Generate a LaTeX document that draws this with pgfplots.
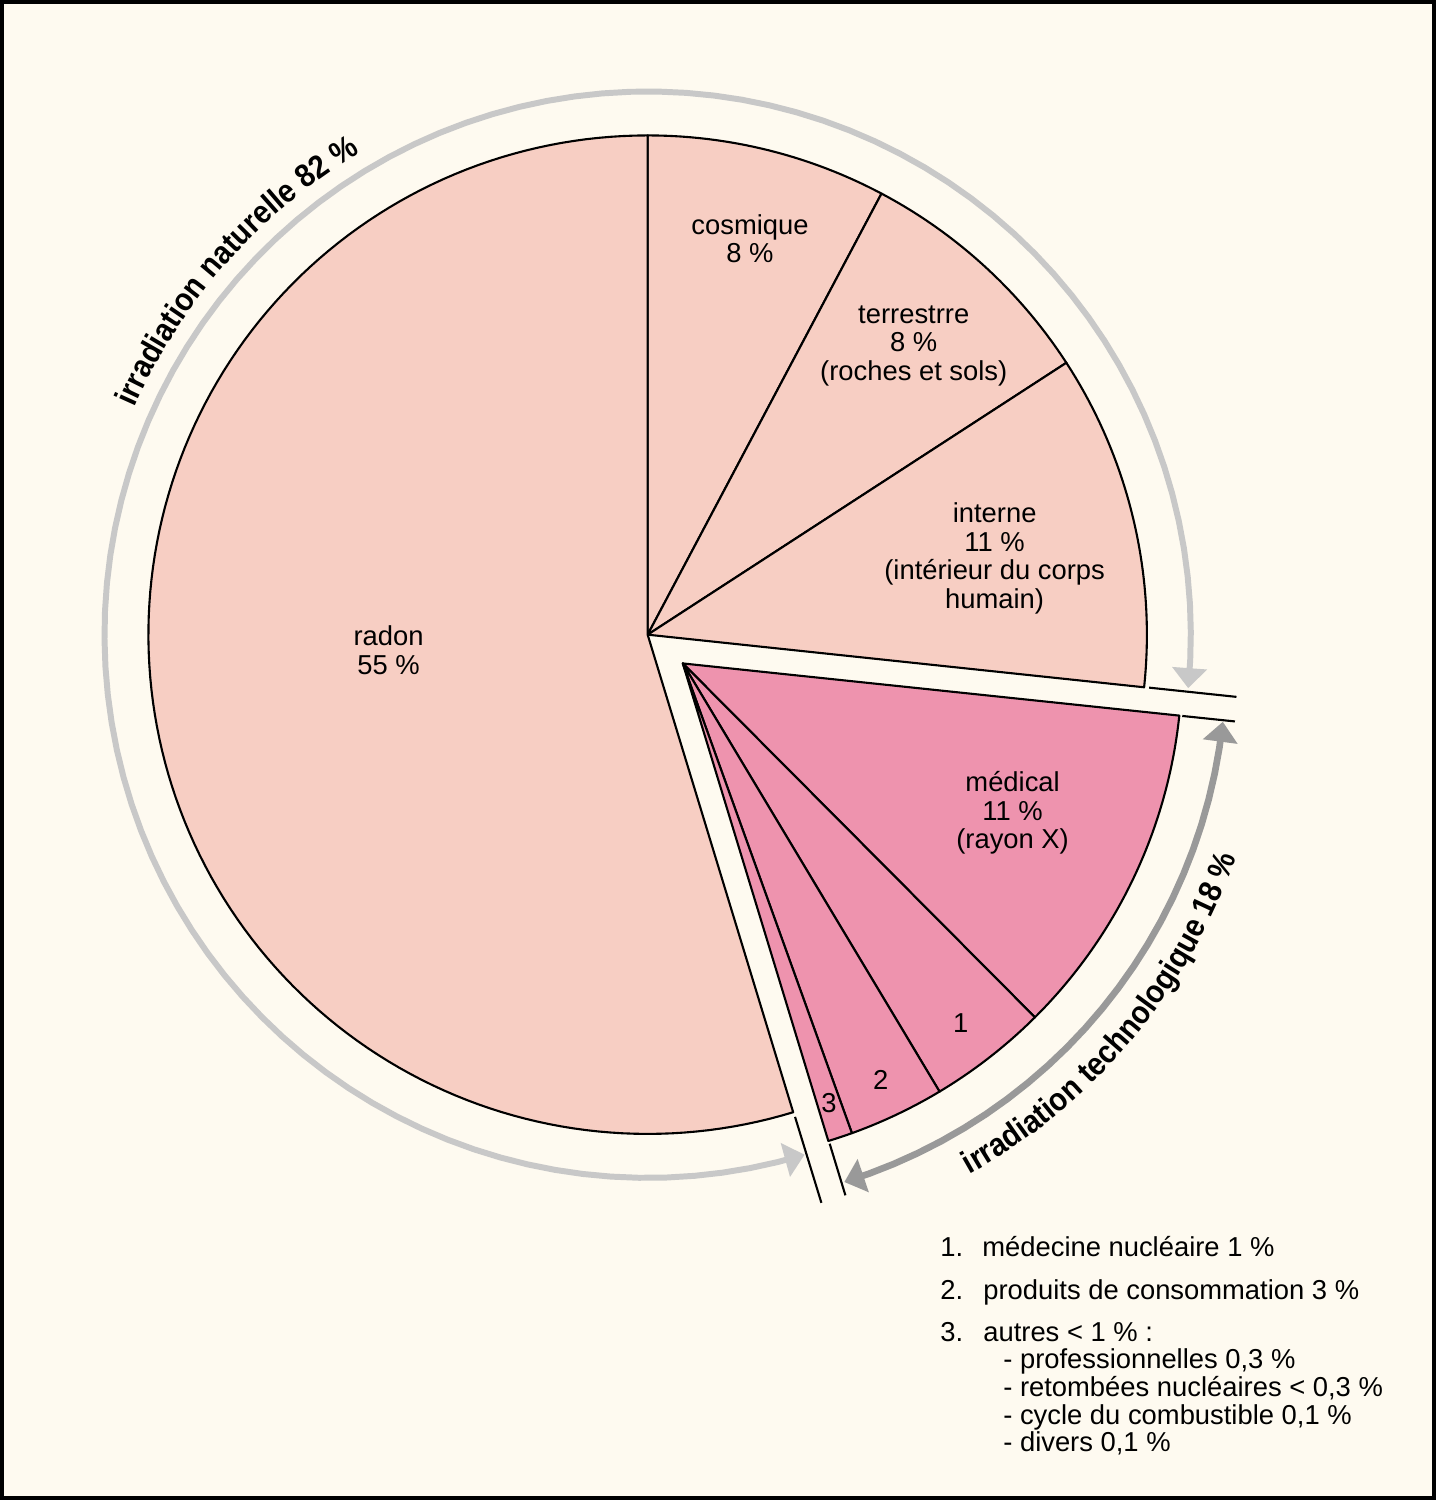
\documentclass[border=0pt]{standalone}
\usepackage{fontspec}
\setmainfont{Liberation Sans}
\newfontfamily\titre{Liberation Sans}[FakeStretch=0.9]
\usepackage{pgfplots}
\pgfplotsset{compat=1.18}
\usetikzlibrary{arrows.meta,decorations.text,calc}

\definecolor{fond}{HTML}{FEFAF0}
\definecolor{nat}{HTML}{F7CEC3}
\definecolor{tech}{HTML}{EE93AE}
\definecolor{grisclair}{HTML}{C8C8C8}
\definecolor{grisfonce}{HTML}{999999}

% centres (1 unite = 0.01 cm)
\def\nx{647.5}\def\ny{865.5}   % irradiation naturelle
\def\tx{682.7}\def\ty{836.7}   % irradiation technologique (part sortie)
\def\R{500}

\tikzset{
  lbl/.style={font=\fontsize{7.8}{8.1}\selectfont, align=center, inner sep=0pt},
  leg/.style={font=\fontsize{7.8}{8.1}\selectfont, anchor=base west, inner sep=0pt},
}

\begin{document}
\begin{tikzpicture}
\begin{axis}[
  scale only axis, width=14.36cm, height=15cm,
  xmin=0, xmax=1436, ymin=0, ymax=1500,
  hide axis, clip=false,
  natpart/.style={fill=nat, draw=black, line width=0.6pt, line join=round, samples=80},
  techpart/.style={fill=tech, draw=black, line width=0.6pt, line join=round, samples=60},
]
% fond et cadre
\addplot[fill=fond, draw=black, line width=1.2pt] coordinates {(1,1) (1435,1) (1435,1499) (1,1499)} -- cycle;

% irradiation naturelle : bornes des secteurs en degres
\addplot[natpart, domain=62.07:90]   ({\nx+\R*cos(x)},{\ny+\R*sin(x)}) -- (axis cs:\nx,\ny) -- cycle; % cosmique
\addplot[natpart, domain=33.0:62.07] ({\nx+\R*cos(x)},{\ny+\R*sin(x)}) -- (axis cs:\nx,\ny) -- cycle; % terrestre
\addplot[natpart, domain=-6.05:33.0] ({\nx+\R*cos(x)},{\ny+\R*sin(x)}) -- (axis cs:\nx,\ny) -- cycle; % interne
\addplot[natpart, domain=90:286.95, samples=140] ({\nx+\R*cos(x)},{\ny+\R*sin(x)}) -- (axis cs:\nx,\ny) -- cycle; % radon

% irradiation technologique
\addplot[techpart, domain=-45.14:-6]     ({\tx+\R*cos(x)},{\ty+\R*sin(x)}) -- (axis cs:\tx,\ty) -- cycle; % medical
\addplot[techpart, domain=-59.05:-45.14] ({\tx+\R*cos(x)},{\ty+\R*sin(x)}) -- (axis cs:\tx,\ty) -- cycle; % 1
\addplot[techpart, domain=-70.2:-59.05]  ({\tx+\R*cos(x)},{\ty+\R*sin(x)}) -- (axis cs:\tx,\ty) -- cycle; % 2
\addplot[techpart, domain=-73.05:-70.2, samples=10] ({\tx+\R*cos(x)},{\ty+\R*sin(x)}) -- (axis cs:\tx,\ty) -- cycle; % 3

% traits prolongeant les bords
\addplot[black, line width=0.6pt] coordinates {(1149.7,812.45) (1237.2,803.2)};
\addplot[black, line width=0.6pt] coordinates {(795.1,382.6) (821.5,296.5)};
\addplot[black, line width=0.6pt] coordinates {(1182.9,784.1) (1235.65,778.6)};
\addplot[black, line width=0.6pt] coordinates {(829.8,355.7) (845.55,304.0)};

% fleches circulaires
\addplot[grisclair, line width=1.7pt, {Triangle[width=0.34cm,length=0.2cm]}-{Triangle[width=0.34cm,length=0.2cm]},
  domain=-5.65:286.8, samples=100] ({\nx+544*cos(x)},{\ny+544*sin(x)});
\addplot[grisfonce, line width=1.9pt, {Triangle[width=0.34cm,length=0.2cm]}-{Triangle[width=0.34cm,length=0.2cm]},
  domain=-72.7:-6.17, samples=25] ({\tx+544*cos(x)},{\ty+544*sin(x)});

% titres courbes
\path[decorate, decoration={text along path, text align=center,
  text={|\titre\bfseries\fontsize{9.2}{11}\selectfont|irradiation naturelle 82 {\%}}}]
  ($(axis cs:\nx,\ny)+(176:5.62cm)$) arc[start angle=176, end angle=101, radius=5.62cm];
\path[decorate, decoration={text along path, text align=center,
  text={|\titre\bfseries\fontsize{9.2}{11}\selectfont|irradiation technologique 18 {\%}}}]
  ($(axis cs:\tx,\ty)+(-85:5.87cm)$) arc[start angle=-85, end angle=5, radius=5.87cm];

% etiquettes
\node[lbl] at (axis cs:750,1262) {cosmique\\8 \%};
\node[lbl] at (axis cs:914,1155) {terrestrre\\8 \%\\(roches et sols)};
\node[lbl] at (axis cs:995,942) {interne\\11 \%\\(intérieur du corps\\humain)};
\node[lbl] at (axis cs:388,850) {radon\\55 \%};
\node[lbl] at (axis cs:1013,687) {médical\\11 \%\\(rayon X)};
\node[lbl] at (axis cs:961,477) {1};
\node[lbl] at (axis cs:881,420) {2};
\node[lbl] at (axis cs:829,396) {3};

% legende
\node[leg] at (axis cs:940,243) {1.};
\node[leg] at (axis cs:982,243) {médecine nucléaire 1 \%};
\node[leg] at (axis cs:940,200) {2.};
\node[leg] at (axis cs:983,200) {produits de consommation 3 \%};
\node[leg] at (axis cs:940,158) {3.};
\node[leg] at (axis cs:983,158) {autres < 1 \% :};
\node[leg] at (axis cs:1003,131) {- professionnelles 0,3 \%};
\node[leg] at (axis cs:1003,103) {- retombées nucléaires < 0,3 \%};
\node[leg] at (axis cs:1003,75) {- cycle du combustible 0,1 \%};
\node[leg] at (axis cs:1003,47) {- divers 0,1 \%};
\end{axis}
\end{tikzpicture}
\end{document}
